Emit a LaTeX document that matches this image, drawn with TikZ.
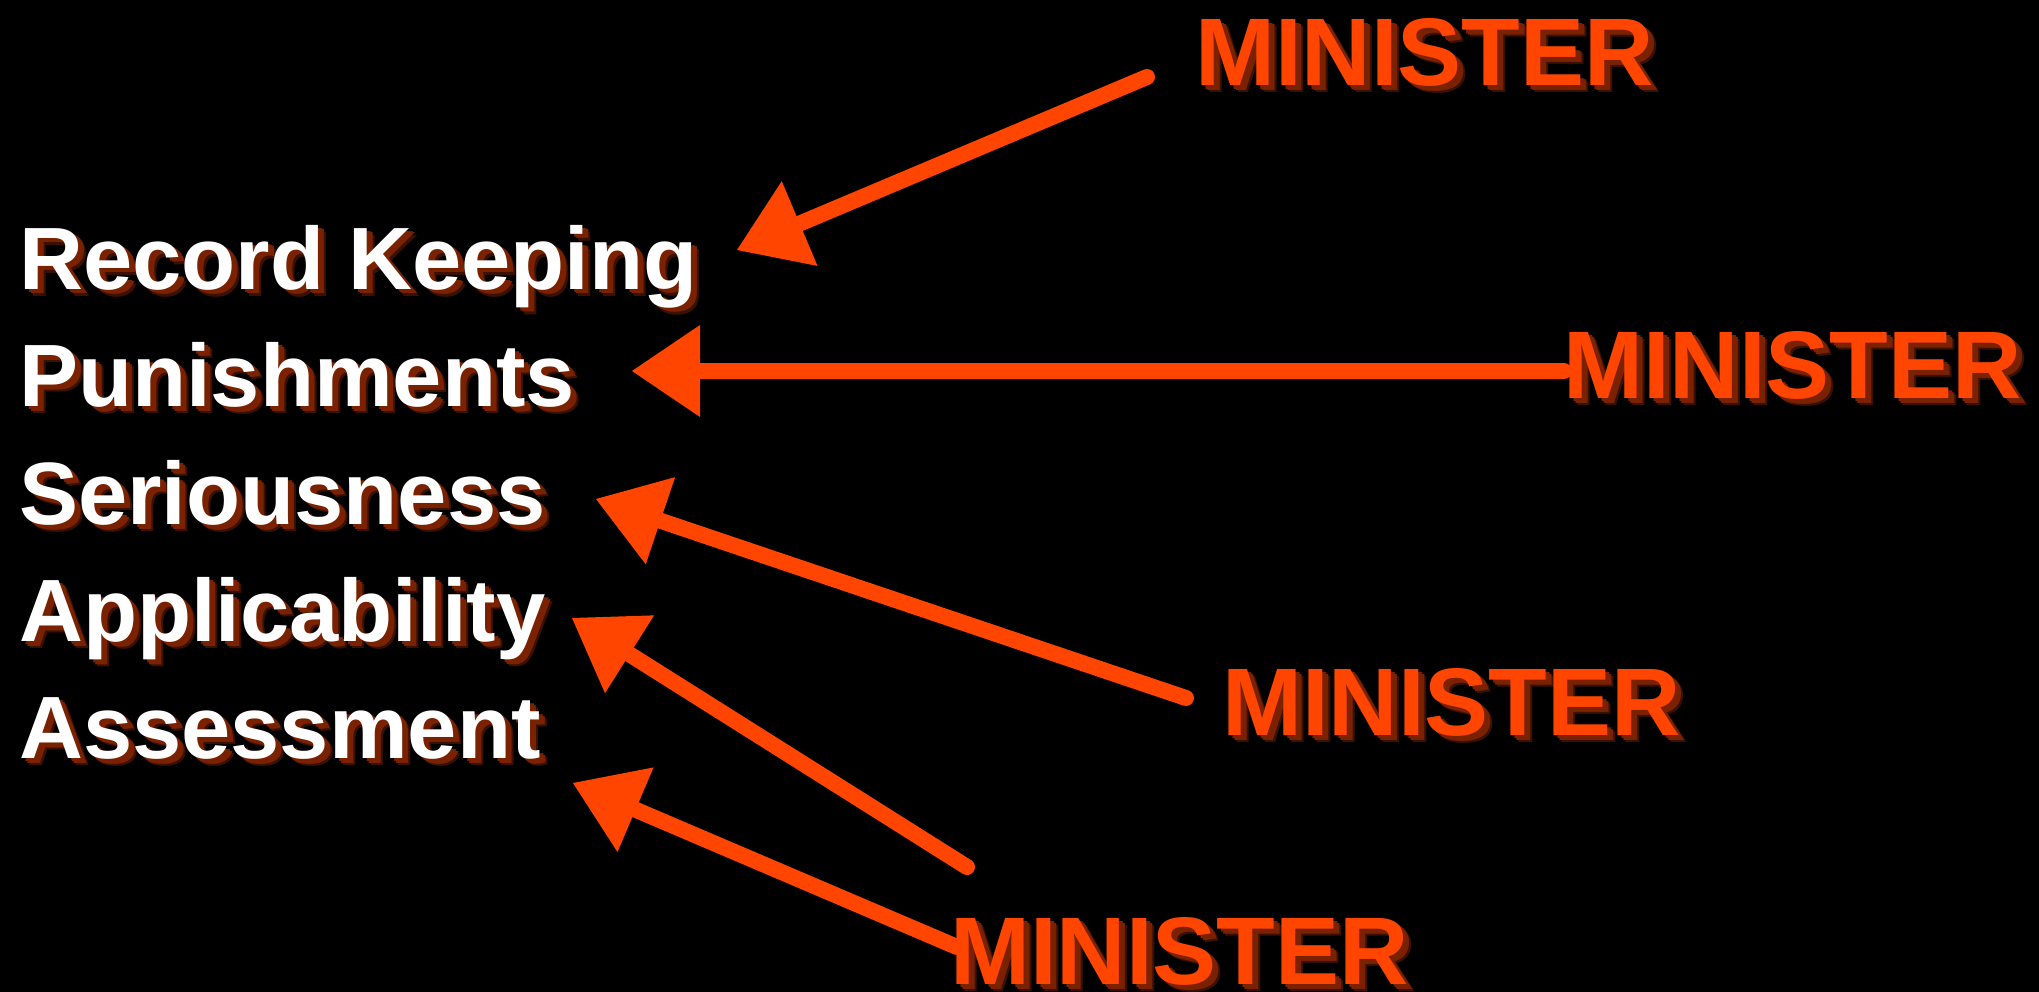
\documentclass[tikz,border=0pt]{standalone}
\usepackage{fontspec}
\setmainfont{Liberation Sans}
\usetikzlibrary{arrows.meta}
\definecolor{minorange}{HTML}{FF4500}
\definecolor{shadowred}{HTML}{7A2200}
\definecolor{shadowdark}{HTML}{3A1000}
\newcommand{\dropshadowtext}[2]{%
  \makebox[0pt][l]{\hspace{8pt}\raisebox{-7pt}{\color{shadowdark}#2}}%
  \makebox[0pt][l]{\hspace{6pt}\raisebox{-5pt}{\color{shadowred}#2}}%
  \makebox[0pt][l]{\hspace{4pt}\raisebox{-3.5pt}{\color{shadowred}#2}}%
  {\color{#1}#2}}
\tikzset{
  itemtext/.style={anchor=base west, inner sep=0pt, font=\fontsize{88.5pt}{100pt}\selectfont\bfseries},
  minister/.style={anchor=base west, inner sep=0pt, font=\fontsize{96pt}{110pt}\selectfont\bfseries},
  chalk/.style={draw=minorange, line width=16pt, line cap=round,
    -{Triangle[length=68pt,width=92pt,line width=0pt]}}
}
\begin{document}
\begin{tikzpicture}[x=1pt,y=-1pt]
\fill[black] (0,0) rectangle (2039,992);
\useasboundingbox (0,0) rectangle (2039,992);

\node[itemtext] (rk) at (19,289) {\dropshadowtext{white}{Record Keeping}};
\node[itemtext] (pu) at (19,406) {\dropshadowtext{white}{Punishments}};
\node[itemtext] (se) at (19,524) {\dropshadowtext{white}{Seriousness}};
\node[itemtext] (ap) at (19,641) {\dropshadowtext{white}{Applicability}};
\node[itemtext] (as) at (19,758) {\dropshadowtext{white}{Assessment}};

\node[minister] (m1) at (1195,86) {\dropshadowtext{minorange}{MINISTER}};
\node[minister] (m2) at (1563,398) {\dropshadowtext{minorange}{MINISTER}};
\node[minister] (m3) at (1222,735) {\dropshadowtext{minorange}{MINISTER}};
\node[minister] (m4) at (950,984) {\dropshadowtext{minorange}{MINISTER}};

\coordinate (t1) at (1147,77);  \coordinate (h1) at (737,250);
\coordinate (t2) at (1564,371); \coordinate (h2) at (632,371);
\coordinate (t3) at (1186,698); \coordinate (h3) at (596,499);
\coordinate (t4) at (967,867);  \coordinate (h4) at (572,618);
\coordinate (t5) at (957,947);  \coordinate (h5) at (573,783);

\draw[chalk] (t1) -- (h1);
\draw[chalk] (t2) -- (h2);
\draw[chalk] (t3) -- (h3);
\draw[chalk] (t4) -- (h4);
\draw[chalk] (t5) -- (h5);
\end{tikzpicture}
\end{document}
